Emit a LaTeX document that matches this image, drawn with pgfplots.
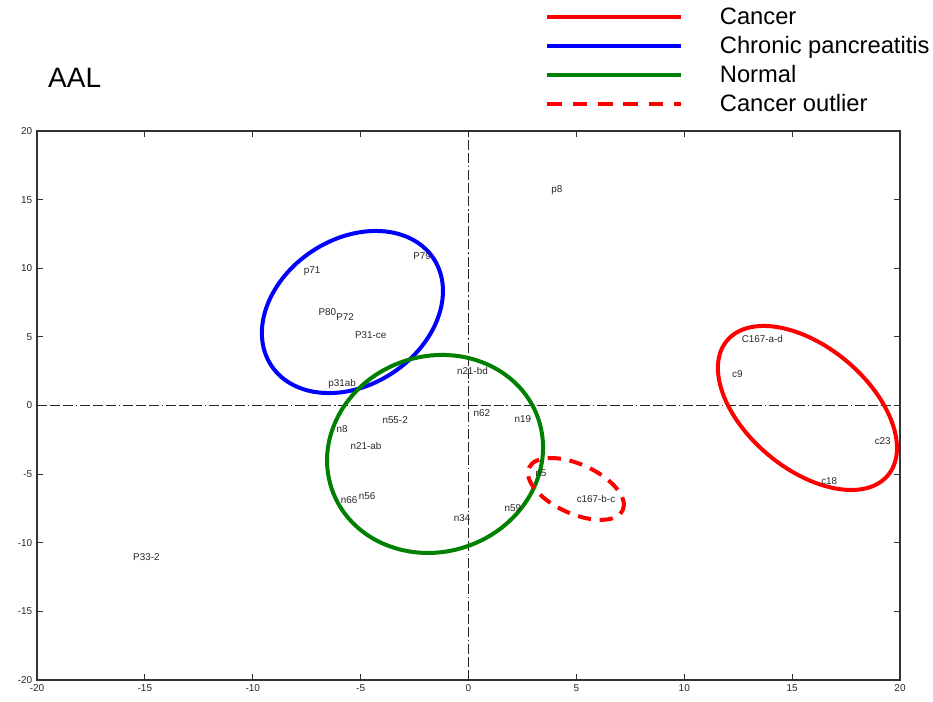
\documentclass[border=0pt]{standalone}
\usepackage{pgfplots}
\usepackage{pgfplotstable}
\pgfplotsset{compat=1.18}
\usepackage{fontspec}
\setmainfont{Liberation Sans}
\definecolor{cred}{RGB}{255,0,0}
\definecolor{cblue}{RGB}{0,0,255}
\definecolor{cgreen}{RGB}{0,128,0}
\pgfplotstableread{
x y label
4.10 15.70 p8
-2.15 10.90 P79
-7.25 9.80 p71
-6.54 6.79 P80
-5.72 6.45 P72
-4.53 5.11 P31-ce
-5.86 1.57 p31ab
0.18 2.50 n21-bd
0.62 -0.55 n62
2.52 -0.98 n19
-3.40 -1.06 n55-2
-5.86 -1.71 n8
-4.75 -2.95 n21-ab
-5.53 -6.90 n66
-4.70 -6.62 n56
-0.30 -8.20 n34
2.06 -7.47 n59
3.36 -4.95 n5
5.91 -6.83 c167-b-c
13.62 4.85 C167-a-d
12.46 2.27 c9
19.20 -2.56 c23
16.72 -5.50 c18
-14.93 -11.04 P33-2
}\labeltable
\begin{document}
\begin{tikzpicture}
\path[use as bounding box] (-27.75pt,-16.5pt) rectangle (672pt,510pt);
\begin{axis}[
 at={(0pt,0pt)}, anchor=south west,
 width=647.25pt, height=411.75pt, scale only axis,
 xmin=-20, xmax=20, ymin=-20, ymax=20,
 xtick={-20,-15,...,20}, ytick={-20,-15,...,20},
 tick align=inside, major tick length=4.5pt,
 axis line style={draw=black!80, line width=0.9pt},
 every tick/.style={black!80, line width=0.7pt},
 ticklabel style={font=\fontsize{7.5}{8}\selectfont, text=black!85},
 /pgf/number format/assume math mode=true,
 clip=false,
 legend cell align=left,
 legend style={at={(rel axis cs:0.5886,1.229)}, anchor=north west, draw=none, fill=none,
   inner sep=0pt, font=\fontsize{17.8}{20}\selectfont, row sep=3.4pt, column sep=26pt},
 legend image code/.code={\draw[#1] (0pt,0pt) -- (100pt,0pt);},
]
\addlegendimage{cred, line width=3pt}
\addlegendentry{Cancer}
\addlegendimage{cblue, line width=3pt}
\addlegendentry{Chronic pancreatitis}
\addlegendimage{cgreen, line width=3pt}
\addlegendentry{Normal}
\addlegendimage{cred, line width=3pt, dash pattern=on 11pt off 8pt}
\addlegendentry{Cancer outlier}

\addplot[forget plot, black!85, line width=0.7pt, dash pattern=on 7.5pt off 2.2pt on 7.5pt off 2.2pt on 7.5pt off 2.2pt on 1pt off 2.2pt] coordinates {(0,-20) (0,20)};
\addplot[forget plot, black!85, line width=0.7pt, dash pattern=on 7.5pt off 2.2pt on 7.5pt off 2.2pt on 7.5pt off 2.2pt on 1pt off 2.2pt] coordinates {(-20,0) (20,0)};

\addplot[forget plot, draw=none, mark=none, nodes near coords, point meta=explicit symbolic,
  nodes near coords style={anchor=center, inner sep=0pt, font=\fontsize{7.4}{8}\selectfont, text=black!85}]
  table[x=x, y=y, meta=label] {\labeltable};

\draw[cblue, line width=3pt, rotate around={33.4:(axis cs:-5.38,6.81)}] (axis cs:-5.38,6.81) ellipse [x radius=72.9pt, y radius=54.7pt];
\draw[cgreen, line width=3pt, rotate around={18.5:(axis cs:-1.55,-3.53)}] (axis cs:-1.55,-3.53) ellipse [x radius=81.8pt, y radius=73.35pt];
\draw[cred, line width=3pt, rotate around={-39.9:(axis cs:15.71,-0.18)}] (axis cs:15.71,-0.18) ellipse [x radius=78.7pt, y radius=45.8pt];
\draw[cred, line width=3pt, dash pattern=on 10pt off 6.5pt, rotate around={-24.4:(axis cs:4.98,-6.08)}] (axis cs:4.98,-6.08) ellipse [x radius=38.6pt, y radius=18.5pt];

\node[anchor=west, inner sep=0pt, font=\fontsize{21}{24}\selectfont] at (rel axis cs:0.0127,1.0965) {AAL};
\end{axis}
\end{tikzpicture}
\end{document}
